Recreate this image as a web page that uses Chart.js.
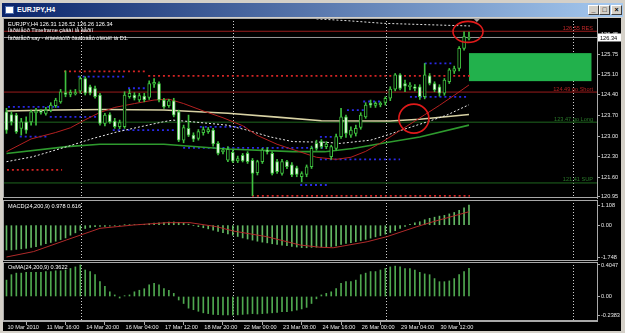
<!DOCTYPE html>
<html lang="es">
<head>
<meta charset="utf-8">
<title>EURJPY,H4</title>
<script src="https://cdn.jsdelivr.net/npm/chart.js@4.4.1/dist/chart.umd.min.js"></script>
<style>
  html, body { margin: 0; padding: 0; }
  body {
    width: 625px; height: 333px; overflow: hidden; position: relative;
    background: #d4d0c8; font-family: "Liberation Sans", Arial, sans-serif;
  }
  #titulo {
    position: absolute; left: 2px; top: 3px; width: 621px; height: 14px;
    background: linear-gradient(to right, #0a246a, #a6caf0);
    color: #fff; font-weight: bold; font-size: 7px; line-height: 14px;
  }
  #titulo .icono { position: absolute; left: 3px; top: 3px; width: 7px; height: 6px; background: #fff; border: 1px solid #5070b0; }
  #titulo .nombre { position: absolute; left: 15px; top: 0; }
  #titulo .boton {
    position: absolute; top: 2px; width: 9px; height: 8px; background: #d4d0c8;
    border: 1px solid; border-color: #fff #404040 #404040 #fff;
    color: #000; font-size: 7px; line-height: 8px; text-align: center; font-weight: bold;
  }
  #negro { position: absolute; left: 3px; top: 18px; width: 618px; height: 313px; background: #000; }
  canvas { position: absolute; left: 0; }
  .texto { position: absolute; left: 8px; color: #fff; font-size: 5.6px; line-height: 6px; white-space: nowrap; }
</style>
</head>
<body>
<div id="titulo">
  <span class="icono"></span><span class="nombre">EURJPY,H4</span>
  <span class="boton" style="left:586px">_</span>
  <span class="boton" style="left:597px">□</span>
  <span class="boton" style="left:609px">×</span>
</div>
<div id="negro"></div>
<canvas id="principal" width="621" height="181" style="top:18px"></canvas>
<canvas id="panelMacd" width="621" height="62" style="top:199px"></canvas>
<canvas id="panelOsma" width="621" height="71" style="top:261px"></canvas>
<div class="texto" id="cabecera" style="top:21px"></div>
<div class="texto" style="top:27px">Ïàðàìåòð Timeframe çàäàí íå âåðíî</div>
<div class="texto" style="top:34.5px">Ïàðàìåòð say - èíäèêàòîð ðàáîòàåò òîëüêî íà D1.</div>
<div class="texto" style="top:203px">MACD(24,200,9) 0.978 0.616</div>
<div class="texto" style="top:264px">OsMA(24,200,9) 0.3622</div>
<script>
// Velas H4 de EURJPY (una por barra, índice = posición)
const apertura = [123.82,123.73,123.71,123.26,123.48,123.48,123.79,123.85,123.77,123.88,
  124.03,124.16,124.47,124.41,124.43,124.52,124.95,124.67,124.61,124.39,
  123.43,123.73,123.51,123.32,123.32,124.33,124.39,124.22,124.35,124.31,
  124.76,124.78,124.22,124.03,124.19,123.82,122.86,123.26,123.03,122.92,
  123.11,123.15,123.20,122.75,122.47,122.18,122.45,122.16,122.35,122.41,
  122.18,121.76,122.13,122.52,122.41,122.13,121.73,122.13,122.02,121.92,
  121.62,121.70,121.96,122.75,122.81,122.64,122.30,122.58,122.98,123.65,
  123.03,123.09,123.29,123.65,124.11,124.04,124.06,124.14,124.28,124.59,
  125.07,124.78,124.67,124.67,124.67,124.33,125.04,124.78,124.67,124.45,
  124.84,125.20,125.29,125.97,126.31];
const maximo = [123.94,123.82,123.77,123.60,123.65,123.88,123.94,123.90,123.97,124.13,
  124.28,124.58,125.21,124.56,124.58,125.01,125.01,124.73,124.69,124.45,
  123.77,123.79,123.60,123.54,124.50,124.58,124.47,124.45,124.45,124.87,
  124.95,124.84,124.28,124.24,124.28,123.88,123.37,123.71,123.11,123.22,
  123.31,123.29,123.26,122.81,122.58,122.64,122.52,122.32,122.41,122.47,
  122.24,122.18,122.58,122.61,122.47,122.21,122.21,122.18,122.10,121.98,
  121.79,122.02,122.66,122.86,122.88,122.81,122.69,123.07,123.94,123.71,
  123.31,123.37,123.79,124.13,124.22,124.16,124.16,124.33,124.67,125.12,
  125.12,124.90,124.81,124.74,124.74,125.46,125.12,124.84,124.74,124.95,
  125.29,125.37,126.03,126.53,126.52];
const minimo = [123.09,123.37,123.09,123.03,123.09,123.37,123.37,123.74,123.71,123.82,
  123.97,124.11,124.33,124.33,124.39,124.45,124.39,124.39,124.28,123.37,
  123.34,123.43,123.26,123.25,123.26,124.28,124.22,124.16,124.16,124.24,
  124.65,124.16,123.94,123.97,123.65,122.81,122.77,122.98,122.81,122.86,
  123.03,123.09,122.66,122.36,122.39,122.13,122.10,122.10,122.12,122.07,
  120.98,121.68,122.07,122.39,121.68,121.73,121.67,121.89,121.62,121.62,
  121.45,121.62,121.90,122.52,122.58,122.57,122.21,122.52,122.92,122.95,
  122.95,123.00,123.23,123.60,123.97,123.97,123.99,124.05,124.20,124.53,
  124.56,124.50,124.56,124.53,124.24,124.26,124.73,124.50,124.35,124.38,
  124.78,125.12,125.21,125.91,126.26];
const cierre = [123.20,123.48,123.15,123.48,123.20,123.82,123.85,123.80,123.88,124.05,
  124.22,124.50,124.41,124.48,124.47,124.95,124.45,124.45,124.33,123.43,
  123.71,123.48,123.32,123.46,124.39,124.45,124.28,124.37,124.22,124.78,
  124.82,124.22,123.99,124.19,123.71,122.86,123.29,123.03,122.89,123.15,
  123.22,123.22,122.73,122.41,122.52,122.55,122.15,122.24,122.16,122.13,
  121.73,122.13,122.52,122.47,121.73,121.79,122.13,121.96,121.68,121.70,
  121.73,121.96,122.58,122.58,122.64,122.73,122.64,122.98,123.65,123.09,
  123.20,123.26,123.71,124.05,124.05,124.11,124.11,124.28,124.59,125.07,
  124.61,124.69,124.73,124.61,124.33,125.07,124.78,124.56,124.45,124.90,
  125.24,125.29,125.97,126.37,126.34];

// Medias móviles: [barra, precio]
const mediaRoja = [[0,122.47],[5,122.90],[10,123.12],[13,123.28],[16,123.55],[19,123.80],[22,123.97],
  [26,124.10],[30,124.22],[33,124.25],[36,124.10],[40,123.85],[44,123.62],[48,123.35],[51,123.02],
  [55,122.72],[59,122.50],[63,122.28],[67,122.21],[70,122.28],[73,122.48],[76,122.76],[79,123.08],
  [82,123.40],[85,123.72],[88,124.04],[91,124.38],[94,124.73]];
const mediaBlanca = [[0,122.13],[5.4,122.30],[12.3,122.64],[17.6,122.92],[22.5,123.14],[27.1,123.31],
  [31.8,123.48],[33.8,123.54],[37.9,123.48],[44.8,123.37],[48.9,123.20],[53.6,122.97],[58.2,122.81],
  [64.7,122.79],[67.8,122.75],[74,122.86],[77.3,123.03],[81.4,123.26],[85.5,123.48],[89.5,123.71],[94,124.06]];
const mediaAmarilla = [[0,123.85],[10,123.88],[20,123.90],[32,123.88],[45,123.77],[55,123.64],[64,123.52],
  [78,123.51],[84,123.57],[94,123.73]];
const mediaVerde = [[0,122.41],[12.3,122.64],[19,122.72],[32,122.72],[44.8,122.56],[58.2,122.47],
  [64.7,122.47],[70.4,122.58],[77.3,122.78],[84,122.97],[94,123.37]];
const lineaSuperior = [[63,126.97],[69.2,126.91],[76.5,126.82],[88.1,126.76],[94.2,126.73]];

// Niveles horizontales con texto
const nivelesPrecio = [126.55, 124.49, 123.47, 121.41];
const nivelesTexto = ['126.55 RES', '124.49 go Short', '123.47 go Long', '121.41 SUP'];
const precioActual = 126.34;

// Tramos punteados: [barra inicio, barra fin, precio]
const tramosRojos = [[11.7,28.2,125.19],[28.8,94.2,125.04],[0.1,11.3,121.85],[49.9,94.2,120.97]];
const tramosAzules = [[0.3,11.3,123.99],[2.7,8.2,122.98],[14.5,24.1,125.01],[8.8,18.4,123.65],
  [21.6,34.2,123.20],[24.7,28.2,124.62],[39.3,48.5,123.31],[35.9,64.3,122.60],[59.7,65.1,121.34],
  [63.7,66.4,122.97],[63.7,80,122.21],[69.2,72.9,123.88],[72.5,76.3,124.17],[82,93.8,124.33],[85,90.5,125.46]];

// Zona verde [barra inicio, barra fin, precio bajo, precio alto] y círculos [barra, precio]
const zonaVerde = [94, 118.9, 124.86, 125.81];
const circulos = [[93.8, 126.53], [82.8, 123.59]];

// Indicadores
const macd = [-1.36,-1.36,-1.33,-1.30,-1.27,-1.22,-1.18,-1.10,-1.02,-0.95,
  -0.88,-0.79,-0.70,-0.55,-0.42,-0.28,-0.18,-0.12,-0.08,-0.06,
  -0.07,-0.05,-0.04,-0.03,0.01,0.03,0.03,0.04,0.05,0.08,
  0.12,0.13,0.15,0.17,0.18,0.16,0.12,0.06,-0.02,-0.08,
  -0.14,-0.20,-0.27,-0.34,-0.41,-0.48,-0.55,-0.62,-0.70,-0.76,
  -0.82,-0.88,-0.93,-0.97,-1.02,-1.06,-1.10,-1.13,-1.17,-1.20,
  -1.23,-1.24,-1.22,-1.21,-1.20,-1.19,-1.17,-1.14,-1.06,-1.00,
  -0.96,-0.90,-0.84,-0.78,-0.71,-0.64,-0.57,-0.49,-0.40,-0.30,
  -0.18,-0.06,0.05,0.13,0.19,0.30,0.38,0.44,0.50,0.54,
  0.62,0.70,0.82,0.96,1.10];
const senalMacd = [[0,-1.748],[5.5,-1.45],[12.2,-0.81],[19,-0.17],[25.8,0.01],[32.6,0.14],[37.3,0.14],
  [42.7,-0.08],[46.1,-0.32],[52.9,-0.63],[59.7,-1.09],[63.7,-1.21],[66.4,-1.24],[73.3,-0.91],
  [77.3,-0.63],[83.4,-0.08],[86.7,0.19],[94,0.74]];
const osma = [0.21,0.28,0.30,0.30,0.31,0.31,0.31,0.31,0.32,0.32,
  0.33,0.33,0.34,0.36,0.38,0.405,0.34,0.32,0.28,0.19,
  0.13,0.06,0.02,-0.02,0.01,0.02,0.06,0.08,0.10,0.15,
  0.17,0.15,0.10,0.08,0.04,-0.045,-0.09,-0.15,-0.17,-0.19,
  -0.21,-0.22,-0.23,-0.235,-0.238,-0.238,-0.238,-0.236,-0.23,-0.225,
  -0.22,-0.225,-0.22,-0.215,-0.21,-0.205,-0.195,-0.195,-0.185,-0.175,
  -0.16,-0.14,-0.09,-0.03,0.02,0.04,0.06,0.10,0.17,0.19,
  0.19,0.21,0.28,0.30,0.32,0.32,0.34,0.36,0.38,0.39,
  0.38,0.36,0.36,0.34,0.31,0.29,0.28,0.23,0.19,0.19,
  0.20,0.23,0.28,0.32,0.3622];

// Ejes y etiquetas
const ticksPrecio = [126.45, 125.75, 125.10, 124.40, 123.70, 123.00, 122.30, 121.60, 120.95];
const ticksMacd = [1.108, 0, -1.748];
const etiquetasMacd = ['1.108', '0.00', '-1.748'];
const ticksOsma = [0.4047, 0, -0.2383];
const etiquetasOsma = ['0.4047', '0.00', '-0.2383'];
const barrasEtiqueta = [0, 8, 16, 24, 32, 40, 48, 56, 64, 72, 80, 88];
const etiquetasTiempo = ['10 Mar 2010', '11 Mar 16:00', '14 Mar 20:00', '16 Mar 04:00', '17 Mar 12:00',
  '18 Mar 20:00', '22 Mar 00:00', '23 Mar 08:00', '24 Mar 16:00', '26 Mar 00:00', '29 Mar 04:00', '30 Mar 12:00'];
const barrasSeparador = [15.1, 46.0, 77.2, 115.1];

// Rangos de los ejes
const ejeX = [-0.71, 120.02];
const rangoPrecio = [120.90, 127.00];
const rangoMacd = [-1.967, 1.385];
const rangoOsma = [-0.315, 0.443];

// Estilos
const FUENTE = '"Liberation Sans", Arial, sans-serif';
const VERDE_VELA = '#3fbf3f';
const coloresNivel = ['#c02828', '#b02020', '#2a7a2a', '#2a7a2a'];
const radiosCirculo = [[15, 10.5], [15, 14.5]];

Chart.defaults.font.family = FUENTE;

// Cabecera con los valores de la última vela
const u = apertura.length - 1;
document.getElementById('cabecera').textContent =
  `EURJPY,H4  ${apertura[u].toFixed(2)} ${maximo[u].toFixed(2)} ${minimo[u].toFixed(2)} ${cierre[u].toFixed(2)}`;

function aPuntos(lista) {
  return lista.map(p => ({ x: p[0], y: p[1] }));
}

function lineaDatos(puntos, color, ancho, guiones, orden) {
  return {
    type: 'line', data: puntos, borderColor: color, borderWidth: ancho,
    borderDash: guiones || [], pointRadius: 0, tension: 0, order: orden
  };
}

function ejeYConfig(rango, ticks, formato) {
  return {
    position: 'right', min: rango[0], max: rango[1],
    afterBuildTicks: s => { s.ticks = ticks.map(v => ({ value: v })); },
    afterFit: s => { s.width = 24; s.paddingTop = 0; s.paddingBottom = 0; },
    grid: { drawOnChartArea: false, tickLength: 3, color: '#a8a8a8' },
    border: { display: true, color: '#a8a8a8' },
    ticks: { autoSkip: false, padding: 1, color: '#e8e8e8', font: { size: 5.6 }, callback: formato }
  };
}

const ejeXOculto = { type: 'linear', min: ejeX[0], max: ejeX[1], offset: false, display: false };

// Separadores de periodo (líneas punteadas verticales)
const separadores = {
  id: 'separadores',
  beforeDatasetsDraw(chart) {
    const { ctx, chartArea: a, scales: { x } } = chart;
    ctx.save();
    ctx.strokeStyle = '#cfcfcf';
    ctx.lineWidth = 1;
    ctx.setLineDash([1, 2]);
    barrasSeparador.forEach(b => {
      const px = Math.round(x.getPixelForValue(b)) + 0.5;
      ctx.beginPath();
      ctx.moveTo(px, a.top);
      ctx.lineTo(px, a.bottom);
      ctx.stroke();
    });
    ctx.restore();
  }
};

// Marco de cada panel
const marco = {
  id: 'marco',
  afterDraw(chart) {
    const { ctx, chartArea: a } = chart;
    ctx.save();
    ctx.strokeStyle = '#a8a8a8';
    ctx.lineWidth = 1;
    ctx.strokeRect(a.left + 0.5, a.top + 0.5, a.right - a.left, a.bottom - a.top - 1);
    ctx.restore();
  }
};

// Zona verde, textos de niveles, círculos y precio actual
const decoPrincipal = {
  id: 'decoPrincipal',
  beforeDatasetsDraw(chart) {
    const { ctx, scales: { x, y } } = chart;
    const x0 = x.getPixelForValue(zonaVerde[0]), x1 = x.getPixelForValue(zonaVerde[1]);
    const y0 = y.getPixelForValue(zonaVerde[3]), y1 = y.getPixelForValue(zonaVerde[2]);
    ctx.save();
    ctx.fillStyle = '#22b14c';
    ctx.fillRect(x0, y0, x1 - x0, y1 - y0);
    ctx.restore();
  },
  afterDraw(chart) {
    const { ctx, chartArea: a, scales: { x, y } } = chart;
    ctx.save();
    ctx.font = '5.6px ' + FUENTE;
    ctx.textAlign = 'right';
    ctx.textBaseline = 'alphabetic';
    nivelesPrecio.forEach((p, i) => {
      ctx.fillStyle = coloresNivel[i];
      ctx.fillText(nivelesTexto[i], a.right - 4, y.getPixelForValue(p) - 1.5);
    });

    ctx.strokeStyle = '#e01a1a';
    ctx.lineWidth = 1.6;
    circulos.forEach((c, i) => {
      ctx.beginPath();
      ctx.ellipse(x.getPixelForValue(c[0]), y.getPixelForValue(c[1]), radiosCirculo[i][0], radiosCirculo[i][1], 0, 0, Math.PI * 2);
      ctx.stroke();
    });

    // marcador de desplazamiento del gráfico
    const pm = x.getPixelForValue(95.6);
    ctx.fillStyle = '#a0a0a0';
    ctx.beginPath();
    ctx.moveTo(pm - 3, a.top + 1);
    ctx.lineTo(pm + 3, a.top + 1);
    ctx.lineTo(pm, a.top + 4);
    ctx.fill();

    // caja del precio actual
    const py = y.getPixelForValue(precioActual);
    ctx.fillStyle = '#ffffff';
    ctx.fillRect(a.right + 1, py - 4, 23, 8);
    ctx.fillStyle = '#000000';
    ctx.textAlign = 'left';
    ctx.textBaseline = 'middle';
    ctx.fillText(precioActual.toFixed(2), a.right + 3, py + 0.5);
    ctx.restore();
  }
};

// Gráfica principal de velas
const datasetsPrincipal = [
  {
    type: 'bar', order: 0, grouped: false, barThickness: 3, borderWidth: 1, borderSkipped: false,
    data: apertura.map((o, i) => ({ x: i, y: [o, cierre[i]] })),
    borderColor: VERDE_VELA,
    backgroundColor: c => (c.raw && c.raw.y[1] > c.raw.y[0]) ? '#000000' : '#eefcee'
  },
  {
    type: 'bar', order: 1, grouped: false, barThickness: 1, borderWidth: 0,
    data: minimo.map((l, i) => ({ x: i, y: [l, maximo[i]] })),
    backgroundColor: VERDE_VELA
  },
  lineaDatos(aPuntos(mediaRoja), '#b42020', 1, null, 2),
  lineaDatos(aPuntos(mediaBlanca), '#e8e8e8', 1, [2, 2], 2),
  lineaDatos(aPuntos(mediaAmarilla), '#d8d2a4', 1.6, null, 2),
  lineaDatos(aPuntos(mediaVerde), '#2e9a2e', 1.6, null, 2),
  lineaDatos(aPuntos(lineaSuperior), '#e0e0e0', 1, [2, 2], 2),
  lineaDatos([{ x: ejeX[0], y: precioActual }, { x: ejeX[1], y: precioActual }], '#9a9a9a', 1, null, 3)
];
nivelesPrecio.forEach((p, i) => {
  datasetsPrincipal.push(lineaDatos([{ x: ejeX[0], y: p }, { x: ejeX[1], y: p }], i < 2 ? '#9a1c1c' : '#1f661f', 1, null, 3));
});
tramosRojos.forEach(t => {
  datasetsPrincipal.push(lineaDatos([{ x: t[0], y: t[2] }, { x: t[1], y: t[2] }], '#d42424', 1.8, [2, 2.92], 4));
});
tramosAzules.forEach(t => {
  datasetsPrincipal.push(lineaDatos([{ x: t[0], y: t[2] }, { x: t[1], y: t[2] }], '#2a2ae6', 1.8, [2, 2.92], 4));
});

const opcionesBase = {
  responsive: false, animation: false, devicePixelRatio: 1,
  plugins: { legend: { display: false }, tooltip: { enabled: false } }
};

new Chart(document.getElementById('principal'), {
  type: 'bar',
  data: { datasets: datasetsPrincipal },
  options: {
    ...opcionesBase,
    layout: { padding: { left: 3, right: 0, top: 0, bottom: 1 } },
    scales: {
      x: ejeXOculto,
      y: ejeYConfig(rangoPrecio, ticksPrecio, v => Number(v).toFixed(2))
    }
  },
  plugins: [separadores, decoPrincipal, marco]
});

// Panel MACD
new Chart(document.getElementById('panelMacd'), {
  type: 'bar',
  data: {
    datasets: [
      lineaDatos(aPuntos(senalMacd), '#b02a2a', 1, null, 0),
      {
        type: 'bar', order: 1, barThickness: 1, grouped: false,
        data: macd.map((v, i) => ({ x: i, y: v })), backgroundColor: '#63b863'
      }
    ]
  },
  options: {
    ...opcionesBase,
    layout: { padding: { left: 3, right: 0, top: 1, bottom: 0 } },
    scales: {
      x: ejeXOculto,
      y: ejeYConfig(rangoMacd, ticksMacd, v => etiquetasMacd[ticksMacd.indexOf(v)])
    }
  },
  plugins: [separadores, marco]
});

// Panel OsMA con el eje de tiempo
new Chart(document.getElementById('panelOsma'), {
  type: 'bar',
  data: {
    datasets: [{
      type: 'bar', barThickness: 1, grouped: false,
      data: osma.map((v, i) => ({ x: i, y: v })), backgroundColor: '#4fa84f'
    }]
  },
  options: {
    ...opcionesBase,
    layout: { padding: { left: 3, right: 0, top: 1, bottom: 0 } },
    scales: {
      x: {
        type: 'linear', position: 'bottom', min: ejeX[0], max: ejeX[1], offset: false,
        afterBuildTicks: s => { s.ticks = barrasEtiqueta.map(v => ({ value: v })); },
        afterFit: s => { s.height = 11; s.paddingLeft = 0; s.paddingRight = 0; },
        grid: { drawOnChartArea: false, tickLength: 4, color: '#a8a8a8' },
        border: { display: true, color: '#a8a8a8' },
        ticks: {
          align: 'start', autoSkip: false, maxRotation: 0, padding: -1, labelOffset: 1,
          color: '#e8e8e8', font: { size: 5.6 },
          callback: v => etiquetasTiempo[barrasEtiqueta.indexOf(v)]
        }
      },
      y: ejeYConfig(rangoOsma, ticksOsma, v => etiquetasOsma[ticksOsma.indexOf(v)])
    }
  },
  plugins: [separadores, marco]
});
</script>
</body>
</html>
